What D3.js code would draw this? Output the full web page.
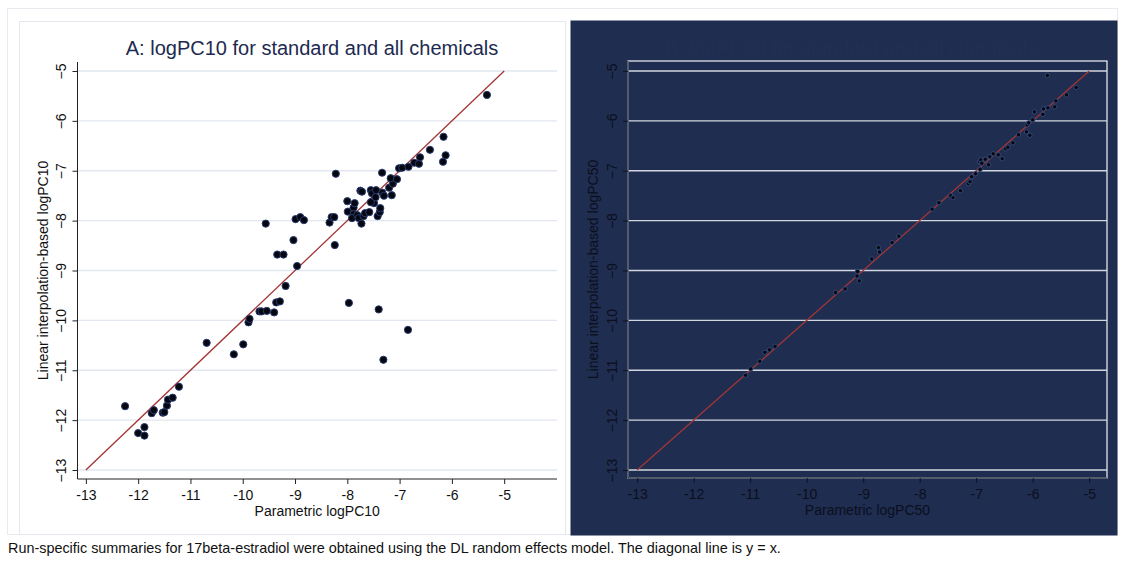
<!DOCTYPE html>
<html><head><meta charset="utf-8">
<script src="https://cdn.jsdelivr.net/npm/d3@7"></script>
<style>
html,body{margin:0;padding:0;background:#fff;}
svg{display:block;font-family:"Liberation Sans",Arial,sans-serif;}
</style></head>
<body>
<svg id="c" width="1123" height="562"></svg>
<script>
// ---------- data ----------
const ticksA = [-13,-12,-11,-10,-9,-8,-7,-6,-5];
const titleA = "A: logPC10 for standard and all chemicals";
const titleB = "B: logPC50 for standard and all chemicals";
const xLabelA = "Parametric logPC10";
const yLabelA = "Linear interpolation-based logPC10";
const xLabelB = "Parametric logPC50";
const yLabelB = "Linear interpolation-based logPC50";
const footnote = "Run-specific summaries for 17beta-estradiol were obtained using the DL random effects model. The diagonal line is y = x.";
const diagonal = [[-13,-13],[-5,-5]];

const pointsA = [
[-12.25,-11.72],[-12.0,-12.26],[-11.88,-12.14],[-11.88,-12.31],[-11.74,-11.86],[-11.70,-11.80],[-11.53,-11.85],[-11.50,-11.84],[-11.45,-11.71],[-11.43,-11.59],[-11.34,-11.55],[-11.22,-11.33],
[-10.69,-10.45],[-10.17,-10.68],[-9.99,-10.48],[-9.89,-10.04],[-9.87,-9.97],
[-9.68,-9.82],[-9.64,-9.82],[-9.54,-9.81],[-9.40,-9.84],[-9.36,-9.64],[-9.29,-9.62],[-9.18,-9.31],
[-9.56,-8.06],[-9.03,-8.39],[-9.34,-8.68],[-9.22,-8.68],[-8.96,-8.91],[-8.99,-7.97],[-8.90,-7.93],[-8.83,-7.99],
[-8.34,-8.04],[-8.30,-7.93],[-8.25,-7.93],[-8.24,-8.49],[-8.22,-7.06],
[-8.00,-7.61],[-7.99,-7.82],[-7.88,-7.74],[-7.86,-7.65],[-7.88,-7.87],[-7.91,-7.95],[-7.81,-7.89],[-7.78,-7.95],[-7.73,-8.06],[-7.69,-7.91],[-7.66,-7.85],[-7.58,-7.83],[-7.42,-7.91],[-7.38,-7.83],[-7.37,-7.75],[-7.49,-7.65],[-7.55,-7.63],[-7.75,-7.40],[-7.72,-7.42],[-7.55,-7.39],[-7.53,-7.45],[-7.45,-7.39],[-7.46,-7.53],[-7.33,-7.44],[-7.30,-7.50],[-7.15,-7.49],[-7.20,-7.34],[-7.13,-7.26],[-7.17,-7.15],[-7.05,-7.17],[-7.335,-7.04],[-7.01,-6.95],[-6.95,-6.94],[-6.83,-6.92],[-6.72,-6.84],[-6.63,-6.86],[-6.61,-6.73],[-6.42,-6.58],[-6.12,-6.69],[-6.17,-6.82],[-6.16,-6.32],[-5.33,-5.48],
[-7.97,-9.65],[-7.40,-9.78],[-6.84,-10.19],[-7.31,-10.79]
];

const pointsB = [
[-11.08,-11.10],[-10.99,-10.97],[-10.83,-10.82],[-10.74,-10.64],[-10.66,-10.59],[-10.56,-10.52],[-9.49,-9.44],[-9.32,-9.37],[-9.10,-9.02],[-9.11,-9.11],[-9.07,-9.21],[-8.85,-8.77],[-8.73,-8.54],[-8.71,-8.63],[-8.49,-8.44],[-8.37,-8.31],[-7.78,-7.77],[-7.66,-7.64],[-7.45,-7.50],[-7.41,-7.54],[-7.28,-7.40],[-7.14,-7.26],[-7.11,-7.22],[-7.01,-7.06],[-7.08,-7.12],[-6.94,-6.82],[-6.93,-6.97],[-6.92,-6.78],[-6.90,-6.85],[-6.84,-6.77],[-6.78,-6.88],[-6.76,-6.72],[-6.70,-6.66],[-6.61,-6.68],[-6.54,-6.76],[-6.48,-6.56],[-6.44,-6.53],[-6.35,-6.44],[-6.25,-6.28],[-6.11,-6.22],[-6.05,-6.29],[-6.10,-6.08],[-6.07,-6.04],[-6.00,-5.98],[-5.97,-5.82],[-5.82,-5.87],[-5.81,-5.76],[-5.73,-5.74],[-5.61,-5.72],[-5.59,-5.60],[-5.40,-5.48],[-5.23,-5.33],[-5.74,-5.09]
];

// ---------- drawing ----------
const svg = d3.select("#c");
// outer figure border
svg.append("rect").attr("x",7.5).attr("y",8.5).attr("width",1110).attr("height",526)
  .attr("fill","#fff").attr("stroke","#e8ebef").attr("stroke-width",1);

function panel(cfg){
  const g = svg.append("g");
  // graph region
  g.append("rect").attr("x",cfg.bx).attr("y",cfg.by).attr("width",cfg.bw).attr("height",cfg.bh)
    .attr("fill",cfg.bg).attr("stroke",cfg.bstroke).attr("stroke-width",1);

  const x = d3.scaleLinear().domain(cfg.xd).range([cfg.px0,cfg.px1]);
  const y = d3.scaleLinear().domain(cfg.yd).range([cfg.py1,cfg.py0]);

  if(cfg.plotBorder){
    g.append("rect").attr("x",cfg.px0).attr("y",cfg.py0).attr("width",cfg.px1-cfg.px0).attr("height",cfg.py1-cfg.py0)
      .attr("fill","none").attr("stroke",cfg.plotBorder).attr("stroke-width",1.2);
  }
  // gridlines
  g.append("g").selectAll("line").data(ticksA).join("line")
    .attr("x1",cfg.px0).attr("x2",cfg.px1).attr("y1",d=>y(d)).attr("y2",d=>y(d))
    .attr("stroke",cfg.grid).attr("stroke-width",cfg.gridW);

  // title
  g.append("text").attr("x",cfg.tx).attr("y",55).attr("text-anchor","middle")
    .attr("font-size",20).attr("fill",cfg.titleColor).text(cfg.title);

  // axes
  const xa = g.append("g").attr("transform",`translate(0,${cfg.py1})`)
    .call(d3.axisBottom(x).tickValues(ticksA).tickSize(5).tickSizeOuter(0).tickFormat(d3.format("d")));
  xa.select(".domain").attr("stroke",cfg.axis).attr("d",`M${cfg.px0},0H${cfg.px1}`);
  xa.selectAll(".tick line").attr("stroke",cfg.axis);
  xa.selectAll(".tick text").attr("font-size",14).attr("fill",cfg.text).attr("dy","0.9em")
    .text(d=>String(d));

  const ya = g.append("g").attr("transform",`translate(${cfg.px0},0)`)
    .call(d3.axisLeft(y).tickValues(ticksA).tickSize(5).tickSizeOuter(0).tickFormat(d3.format("d")));
  ya.select(".domain").attr("stroke",cfg.axis).attr("d",`M0,${cfg.py0}V${cfg.py1}`);
  ya.selectAll(".tick line").attr("stroke",cfg.axis);
  ya.selectAll(".tick text").attr("font-size",14).attr("fill",cfg.text)
    .attr("x",0).attr("dy",0).attr("text-anchor","middle")
    .attr("transform","translate(-15,0) rotate(-90)").attr("dominant-baseline","middle");

  // axis titles
  g.append("text").attr("x",(cfg.px0+cfg.px1)/2).attr("y",cfg.py1+37).attr("text-anchor","middle")
    .attr("font-size",14).attr("fill",cfg.text).text(cfg.xl);
  g.append("text").attr("transform",`translate(${cfg.px0-30},${(cfg.py0+cfg.py1)/2}) rotate(-90)`)
    .attr("text-anchor","middle").attr("font-size",14).attr("fill",cfg.text).text(cfg.yl);

  // diagonal
  g.append("path").datum(diagonal).attr("fill","none").attr("stroke","#a33535").attr("stroke-width",1.3)
    .attr("d",d3.line().x(d=>x(d[0])).y(d=>y(d[1])));

  // points
  g.append("g").selectAll("circle").data(cfg.pts).join("circle")
    .attr("cx",d=>x(d[0])).attr("cy",d=>y(d[1])).attr("r",cfg.r)
    .attr("fill","#05070f").attr("stroke",cfg.ptStroke).attr("stroke-width",cfg.ptSW);
}

panel({
  bx:19.5,by:21.5,bw:546,bh:513,bg:"#fff",bstroke:"#e4e8ee",
  xd:[-13.16,-3.99], yd:[-13.18,-4.82], px0:77.5, px1:557, py0:62, py1:479,
  grid:"#e1e6ef", gridW:1.3, axis:"#222", text:"#111", title:titleA, titleColor:"#1d2a50", tx:312,
  xl:xLabelA, yl:yLabelA, pts:pointsA, r:3.6, ptStroke:"#2a3a70", ptSW:1
});
panel({
  bx:571, by:21, bw:546, bh:514, bg:"#1f2d51", bstroke:"#1f2d51",
  xd:[-13.163,-4.685], yd:[-13.16,-4.80], px0:628, px1:1107, py0:61, py1:478,
  grid:"#d2d6de", gridW:1.4, axis:"#0d1222", text:"#0b0f1c", title:titleB, titleColor:"#222f54", tx:851,
  xl:xLabelB, yl:yLabelB, pts:pointsB, r:2.2, ptStroke:"#34497a", ptSW:1, plotBorder:"#f2f4f7"
});

svg.append("text").attr("x",8).attr("y",553).attr("font-size",14.4).attr("fill","#111").text(footnote);
</script>
</body></html>
